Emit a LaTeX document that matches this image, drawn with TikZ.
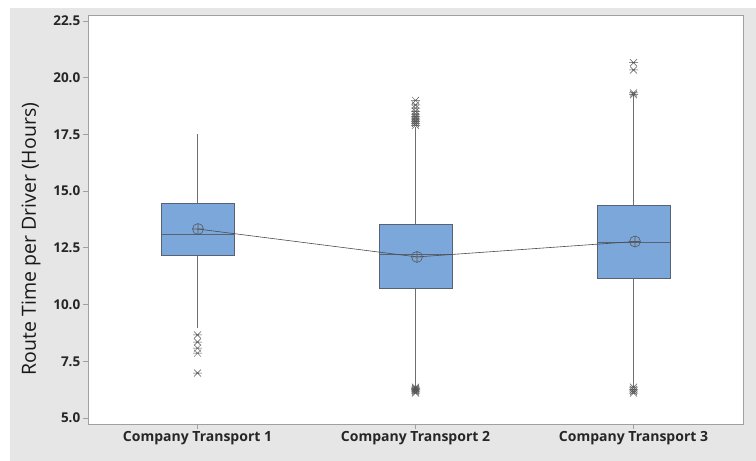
\documentclass[tikz,border=0pt]{standalone}
\usepackage{fontspec}
\setmainfont{Open Sans}
\definecolor{panelbg}{RGB}{230,230,230}
\definecolor{frame}{RGB}{160,160,160}
\definecolor{boxfill}{RGB}{123,167,218}
\definecolor{boxedge}{RGB}{88,98,112}
\definecolor{whiskcol}{RGB}{110,110,110}
\definecolor{markcol}{RGB}{85,85,85}
\tikzset{
  boxst/.style={fill=boxfill, draw=boxedge, line width=0.9pt},
  medianst/.style={draw=boxedge, line width=0.9pt},
  whisk/.style={draw=whiskcol, line width=0.9pt},
  meanline/.style={draw=black!70, line width=0.6pt},
  meanmark/.style={draw=black!65, line width=0.6pt},
  outl/.style={draw=markcol, line width=0.5pt},
  ylab/.style={font=\fontsize{13.5}{15}\selectfont\bfseries, text=black!85},
  xlab/.style={font=\fontsize{14}{16}\selectfont\bfseries, text=black!85},
  outlier/.pic={\draw[outl] (-3.5,-3.5)--(3.5,3.5) (-3.5,3.5)--(3.5,-3.5) (-4.5,0)--(4.5,0);},
  meanpic/.pic={\draw[meanmark] (0,0) circle (5.5) (-5.5,0)--(5.5,0) (0,-5.5)--(0,5.5);}
}
\begin{document}
\begin{tikzpicture}[x=1pt,y=-1pt, declare function={yv(\v)=418-(\v-5)*22.686;}]
\useasboundingbox (0,0) rectangle (756,461);
% panel and plotting area
\fill[panelbg] (10,8) rectangle (756,461);
\draw[frame, fill=white, line width=0.8pt] (88,15) rectangle (743,424);
% y axis ticks and labels
\foreach \v/\t in {5/5.0,7.5/7.5,10/10.0,12.5/12.5,15/15.0,17.5/17.5,20/20.0,22.5/22.5}{
  \draw[frame, line width=0.8pt] (83,{yv(\v)}) -- (88,{yv(\v)});
  \node[ylab, anchor=east, inner sep=0pt] at (80.5,{yv(\v)}) {\t};
}
% x axis ticks and labels
\foreach \x/\t in {197.5/1,415.5/2,633.5/3}{
  \draw[frame, line width=0.8pt] (\x,424) -- (\x,429);
  \node[xlab, anchor=north, inner sep=0pt] at (\x,431) {Company Transport \t};
}
\node[rotate=90, font=\fontsize{19.5}{22}\selectfont, text=black!90] (ytitle) at (31,239) {Route Time per Driver (Hours)};

% ---- group 1
\draw[whisk] (197.5,{yv(17.5)}) -- (197.5,{yv(8.96)});
\draw[boxst] (161,{yv(14.47)}) rectangle (234,{yv(12.18)});
\draw[medianst] (161,{yv(13.1)}) -- (234,{yv(13.1)});
\foreach \v in {8.66,8.35,8.08,7.86,6.98}{\pic at (197.5,{yv(\v)}) {outlier};}

% ---- group 2
\draw[whisk] (415.5,{yv(17.83)}) -- (415.5,{yv(6.37)});
\draw[boxst] (379,{yv(13.51)}) rectangle (452,{yv(10.73)});
\draw[medianst] (379,{yv(12.2)}) -- (452,{yv(12.2)});
\foreach \v in {17.9,17.98,18.06,18.14,18.22,18.3,18.4,18.52,18.66,18.8,19.0}{\pic at (415.5,{yv(\v)}) {outlier};}
\foreach \v in {6.1,6.15,6.2,6.25,6.3,6.36}{\pic at (415.5,{yv(\v)}) {outlier};}

% ---- group 3
\draw[whisk] (633.5,{yv(19.24)}) -- (633.5,{yv(6.37)});
\draw[boxst] (597,{yv(14.39)}) rectangle (670,{yv(11.17)});
\draw[medianst] (597,{yv(12.76)}) -- (670,{yv(12.76)});
\foreach \v in {19.25,19.33,20.34,20.66}{\pic at (633.5,{yv(\v)}) {outlier};}
\foreach \v in {6.1,6.18,6.26,6.36}{\pic at (633.5,{yv(\v)}) {outlier};}

% means and the line joining them
\coordinate (m1) at (198,{yv(13.33)});
\coordinate (m2) at (417,{yv(12.1)});
\coordinate (m3) at (635,{yv(12.78)});
\draw[meanline] (m1) -- (m2) -- (m3);
\pic at (m1) {meanpic};
\pic at (m2) {meanpic};
\pic at (m3) {meanpic};
\end{tikzpicture}
\end{document}
